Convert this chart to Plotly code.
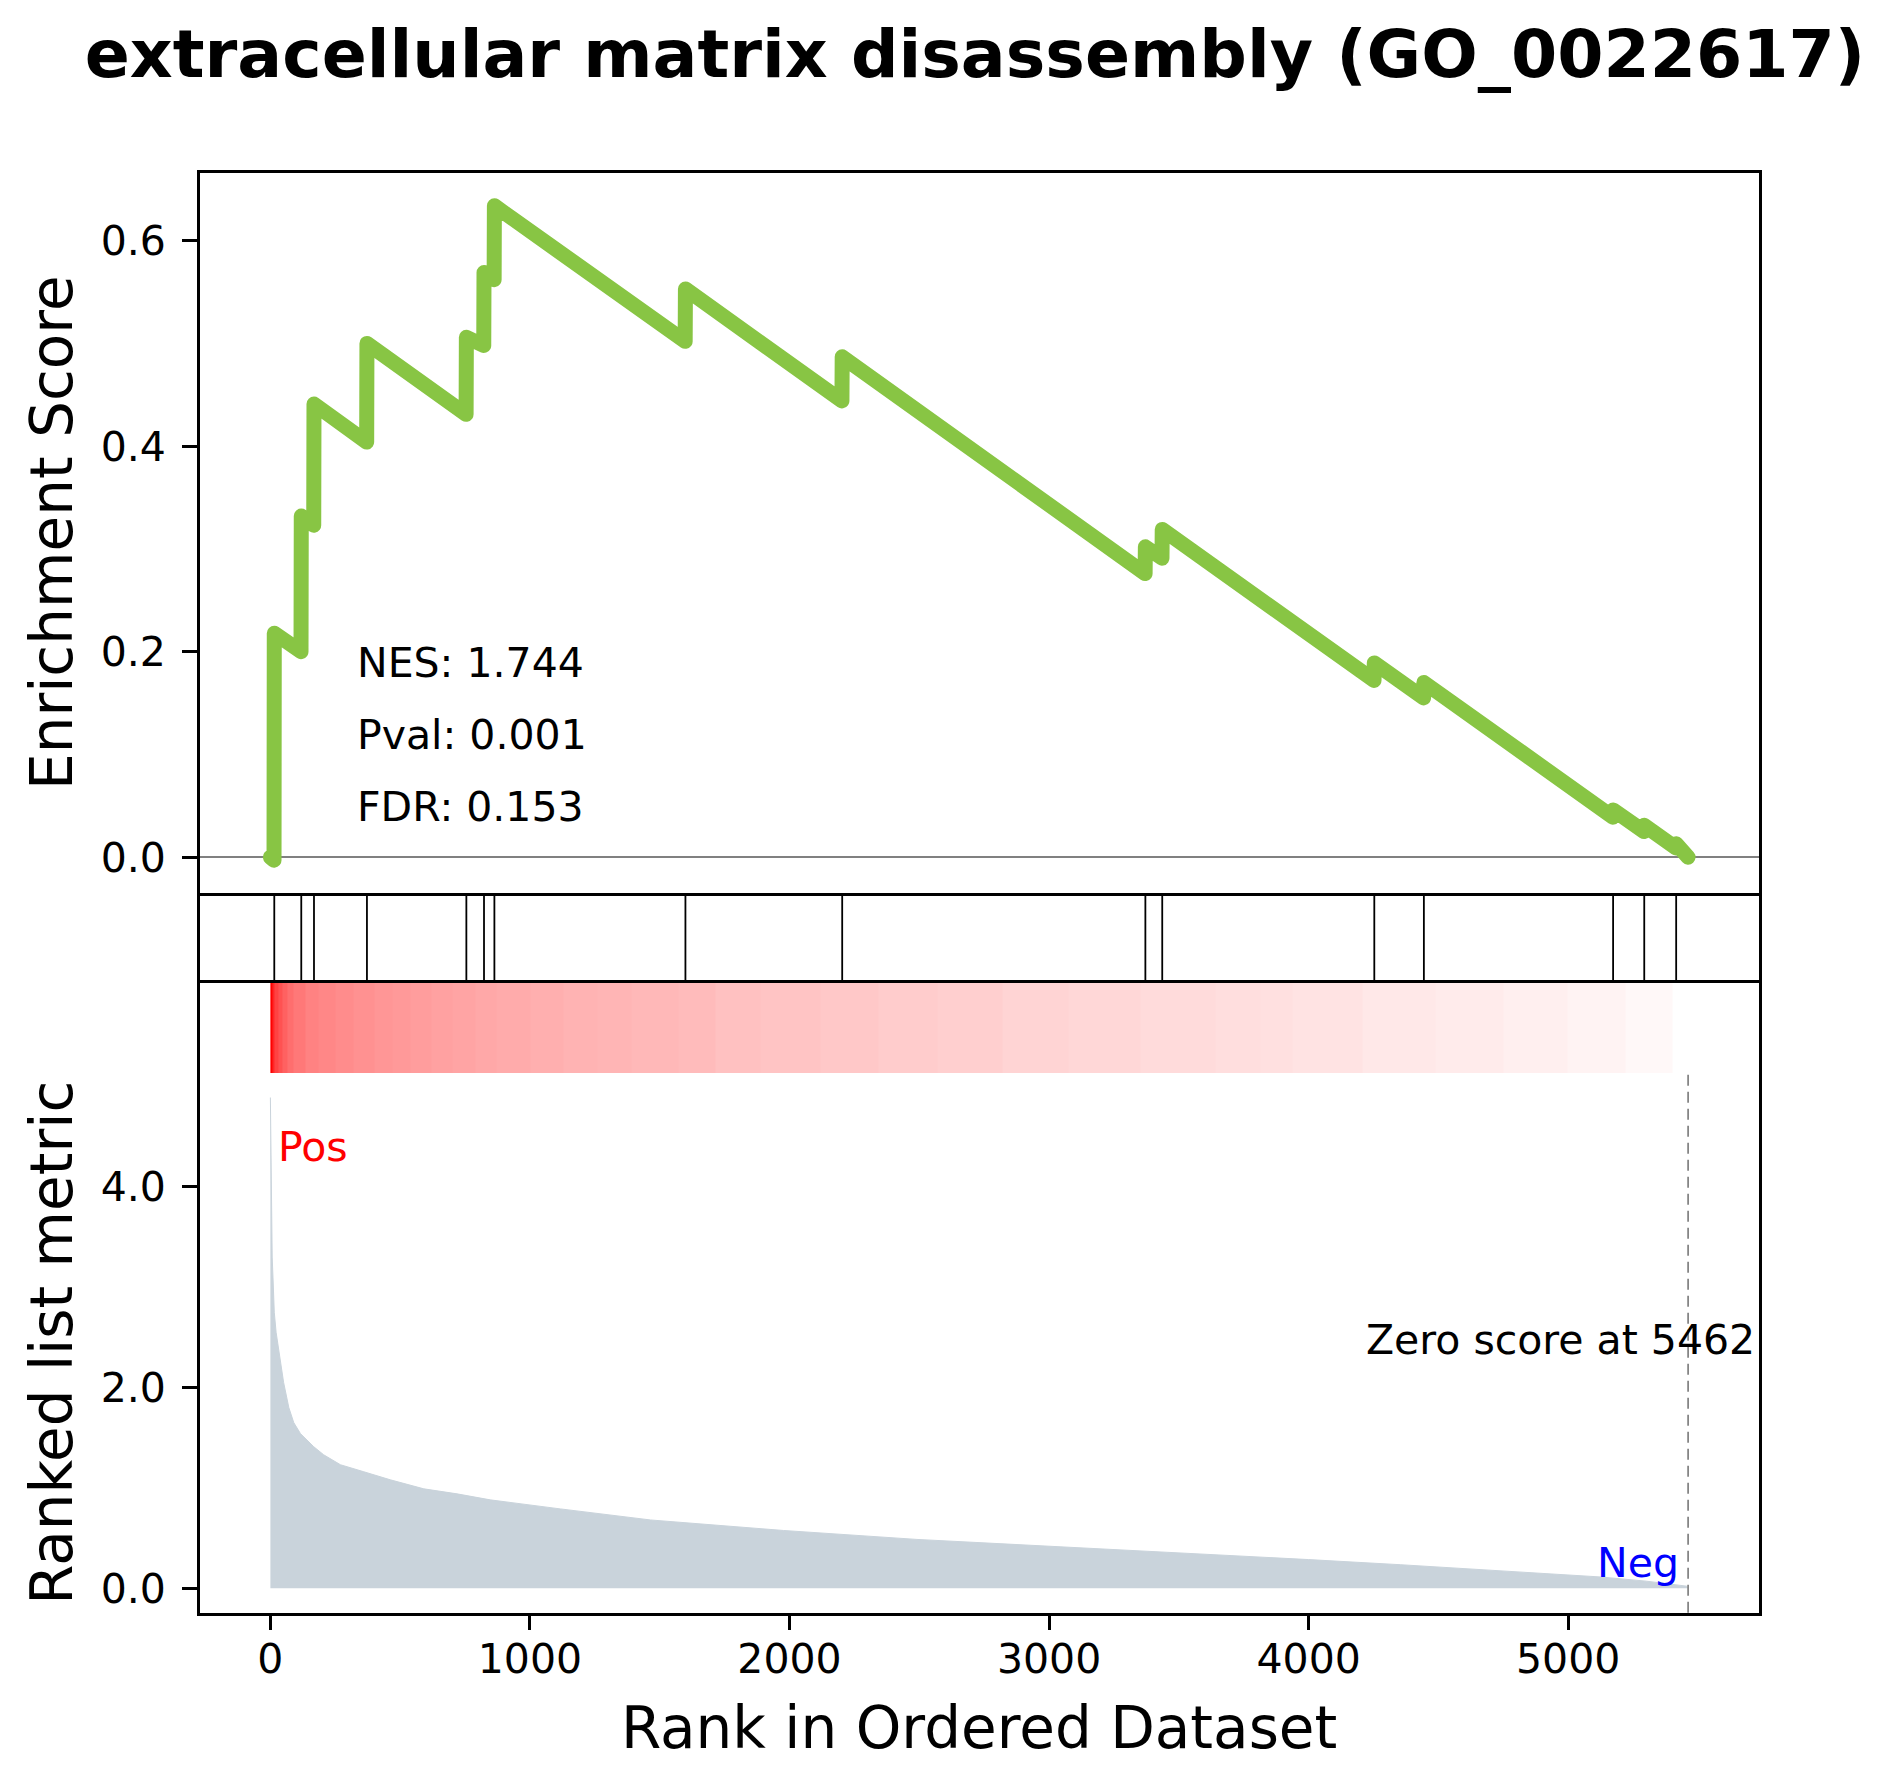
import plotly.graph_objects as go

# --- data ---
title_text = "extracellular matrix disassembly (GO_0022617)"
n_genes = 5462
zero_score_at = 5462
nes, pval, fdr = 1.744, 0.001, 0.153

# gene-set hits along the ranked list (middle strip)
hit_ranks = [15, 119, 168, 372, 755, 823, 863, 1599, 2203, 3371, 3436,
             4253, 4444, 5173, 5293, 5416]

# running enrichment score (corners of the green curve)
es_rank = [0, 14, 15, 118, 119, 167, 168, 371, 372, 754, 755, 822, 823,
           862, 863, 1598, 1599, 2202, 2203, 3370, 3371, 3435, 3436, 4252,
           4253, 4443, 4444, 5172, 5173, 5292, 5293, 5415, 5416, 5462]
es_score = [0.0, -0.003, 0.218, 0.200, 0.332, 0.323, 0.441, 0.404, 0.500,
            0.431, 0.506, 0.498, 0.569, 0.562, 0.634, 0.502, 0.553, 0.444,
            0.487, 0.276, 0.302, 0.291, 0.319, 0.172, 0.189, 0.155, 0.170,
            0.039, 0.046, 0.025, 0.031, 0.009, 0.013, 0.0]

# ranked list metric (grey area)
metric_rank = [0, 2, 4, 7, 10, 15, 22, 28, 38, 51, 71, 90, 116, 167, 205,
               270, 360, 462, 591, 719, 847, 976, 1117, 1464, 1977, 2491,
               3082, 3500, 4000, 4353, 4800, 5123, 5300, 5457, 5462]
metric_value = [4.89, 4.3, 3.7, 3.3, 3.1, 2.75, 2.55, 2.45, 2.24, 2.05, 1.80,
                1.65, 1.54, 1.41, 1.33, 1.23, 1.16, 1.08, 0.99, 0.94, 0.88,
                0.84, 0.79, 0.68, 0.575, 0.486, 0.41, 0.355, 0.285, 0.234,
                0.165, 0.112, 0.07, 0.02, 0.0]

# red colour bar: block edges (rank) and red intensity of each block
bar_edges = [0, 8, 16, 30, 45, 65, 90, 135, 185, 250, 320, 400, 470, 540,
             620, 700, 790, 870, 1000, 1130, 1260, 1390, 1570, 1714, 1887,
             2119, 2342, 2570, 2820, 3074, 3351, 3640, 3814, 3937, 4206,
             4487, 4750, 4996, 5219, 5400, 5462]
bar_level = [1.0, 0.85, 0.74, 0.68, 0.62, 0.57, 0.53, 0.49, 0.47, 0.45,
             0.43, 0.41, 0.40, 0.385, 0.37, 0.355, 0.34, 0.33, 0.315, 0.30,
             0.29, 0.28, 0.265, 0.245, 0.23, 0.215, 0.20, 0.19, 0.17, 0.157,
             0.141, 0.13, 0.12, 0.11, 0.09, 0.078, 0.063, 0.047, 0.027, 0.0]

# --- layout helpers (pixel positions of the panels) ---
W, H = 1901, 1788
FONT = "DejaVu Sans"
LW = 2.7


def fx(p):
    return p / W


def fy(p):
    return 1 - p / H


left, right = 199.5, 1759
es_top, es_bot = 173, 893
strip_bot = 983
bar_bot = 1073
rank_bot = 1612.7

x_range = [-0.05 * n_genes, 1.05 * n_genes]
es_lo, es_hi = min(es_score), max(es_score)
es_pad = 0.05 * (es_hi - es_lo)
m_lo, m_hi = min(metric_value), max(metric_value)
m_pad = 0.05 * (m_hi - m_lo)

fig = go.Figure()

# enrichment score
fig.add_trace(go.Scatter(x=es_rank, y=es_score, mode="lines",
                         line=dict(color="#88C544", width=15),
                         xaxis="x", yaxis="y", hoverinfo="skip"))

# hits
hx, hy = [], []
for h in hit_ranks:
    hx += [h, h, None]
    hy += [0, 1, None]
fig.add_trace(go.Scatter(x=hx, y=hy, mode="lines",
                         line=dict(color="black", width=1.8),
                         xaxis="x2", yaxis="y2", hoverinfo="skip"))

# colour bar
fig.add_trace(go.Heatmap(x=bar_edges, y=[0, 1], z=[bar_level],
                         colorscale=[[0, "#ffffff"], [1, "#ff0000"]],
                         zmin=0, zmax=1, showscale=False,
                         xaxis="x3", yaxis="y3", hoverinfo="skip"))

# ranked list metric
fig.add_trace(go.Scatter(x=metric_rank, y=metric_value, mode="lines",
                         fill="tozeroy", fillcolor="#C9D3DB",
                         line=dict(color="#C9D3DB", width=1),
                         xaxis="x4", yaxis="y4", hoverinfo="skip"))

xdom = [fx(left), fx(right)]
axis_common = dict(range=x_range, domain=xdom, showgrid=False,
                   zeroline=False, linecolor="black", linewidth=LW)

fig.update_layout(
    width=W, height=H,
    margin=dict(l=0, r=0, t=0, b=0),
    paper_bgcolor="white", plot_bgcolor="white",
    showlegend=False,
    font=dict(family=FONT, color="black", size=41),
    title=dict(text=title_text, x=fx(975), y=fy(54), xanchor="center",
               yanchor="middle", xref="paper", yref="container",
               font=dict(size=66.5, weight="bold", family=FONT)),
    xaxis=dict(axis_common, anchor="y", showline=True, mirror=True,
               showticklabels=False, ticks=""),
    yaxis=dict(domain=[fy(es_bot), fy(es_top)],
               range=[es_lo - es_pad, es_hi + es_pad], anchor="x",
               showgrid=False, showline=True, mirror=True, linecolor="black",
               linewidth=LW, tickvals=[0, 0.2, 0.4, 0.6], tickformat=".1f",
               ticks="outside", ticklen=14.5, tickwidth=LW,
               tickcolor="black", ticklabelstandoff=8, zeroline=True,
               zerolinecolor="#808080", zerolinewidth=1.7),
    xaxis2=dict(axis_common, anchor="y2", showline=False,
                showticklabels=False, ticks=""),
    yaxis2=dict(domain=[fy(strip_bot), fy(es_bot)], range=[0, 1],
                anchor="x2", showgrid=False, zeroline=False, showline=True,
                mirror=True, linecolor="black", linewidth=LW,
                showticklabels=False, ticks=""),
    xaxis3=dict(axis_common, anchor="y3", side="top", showline=True,
                showticklabels=False, ticks=""),
    yaxis3=dict(domain=[fy(bar_bot), fy(strip_bot)], range=[0, 1],
                anchor="x3", showgrid=False, zeroline=False, showline=True,
                mirror=True, linecolor="black", linewidth=LW,
                showticklabels=False, ticks=""),
    xaxis4=dict(axis_common, anchor="y4", showline=True,
                tickvals=[0, 1000, 2000, 3000, 4000, 5000],
                ticks="outside", ticklen=14.5, tickwidth=LW,
                tickcolor="black", ticklabelstandoff=-6),
    yaxis4=dict(domain=[fy(rank_bot), fy(bar_bot)],
                range=[m_lo - m_pad, m_hi + m_pad], anchor="x4",
                showgrid=False, zeroline=False, showline=True, mirror=True,
                linecolor="black", linewidth=LW, tickvals=[0, 2, 4],
                tickformat=".1f", ticks="outside", ticklen=14.5,
                tickwidth=LW, tickcolor="black", ticklabelstandoff=8),
)

# zero score marker
fig.add_shape(type="line", xref="x4", yref="y4 domain",
              x0=zero_score_at, x1=zero_score_at, y0=0, y1=1,
              line=dict(color="#808080", width=1.7, dash="11px,6px"))

ann = []
# stats text in the ES panel
for txt, yy in [(f"NES: {nes:.3f}", 0.320), (f"Pval: {pval:.3f}", 0.220),
                (f"FDR: {fdr:.3f}", 0.120)]:
    ann.append(dict(text=txt, xref="x domain", yref="y domain", x=0.1, y=yy,
                    xanchor="left", yanchor="middle", showarrow=False,
                    font=dict(size=41)))
ann.append(dict(text="Pos", xref="x4 domain", yref="y4 domain", x=0.049,
                y=0.863, xanchor="left", yanchor="middle", showarrow=False,
                font=dict(size=41, color="red")))
ann.append(dict(text="Neg", xref="x4 domain", yref="y4 domain", x=0.950,
                y=0.092, xanchor="right", yanchor="middle", showarrow=False,
                font=dict(size=41, color="blue")))
ann.append(dict(text=f"Zero score at {zero_score_at}", xref="x4 domain",
                yref="y4 domain", x=0.8724, y=0.505, xanchor="center",
                yanchor="middle", showarrow=False, font=dict(size=41)))
# axis titles
ann.append(dict(text="Enrichment Score", xref="paper", yref="paper",
                x=fx(52), y=fy((es_top + es_bot) / 2), textangle=-90,
                xanchor="center", yanchor="middle", showarrow=False,
                font=dict(size=58)))
ann.append(dict(text="Ranked list metric", xref="paper", yref="paper",
                x=fx(52), y=fy((bar_bot + rank_bot) / 2), textangle=-90,
                xanchor="center", yanchor="middle", showarrow=False,
                font=dict(size=58)))
ann.append(dict(text="Rank in Ordered Dataset", xref="paper", yref="paper",
                x=fx((left + right) / 2), y=fy(1728), xanchor="center",
                yanchor="middle", showarrow=False, font=dict(size=58)))
fig.update_layout(annotations=ann)

# page without body margin; round joins on the thick ES line
post = """
document.body.style.margin = '0';
document.querySelectorAll('path.js-line').forEach(function (p) {
  if (parseFloat(p.style.strokeWidth) > 10) {
    p.style.strokeLinejoin = 'round';
    p.style.strokeLinecap = 'round';
  }
});
"""
fig.write_html("out.html", config={"displayModeBar": False}, post_script=post)
